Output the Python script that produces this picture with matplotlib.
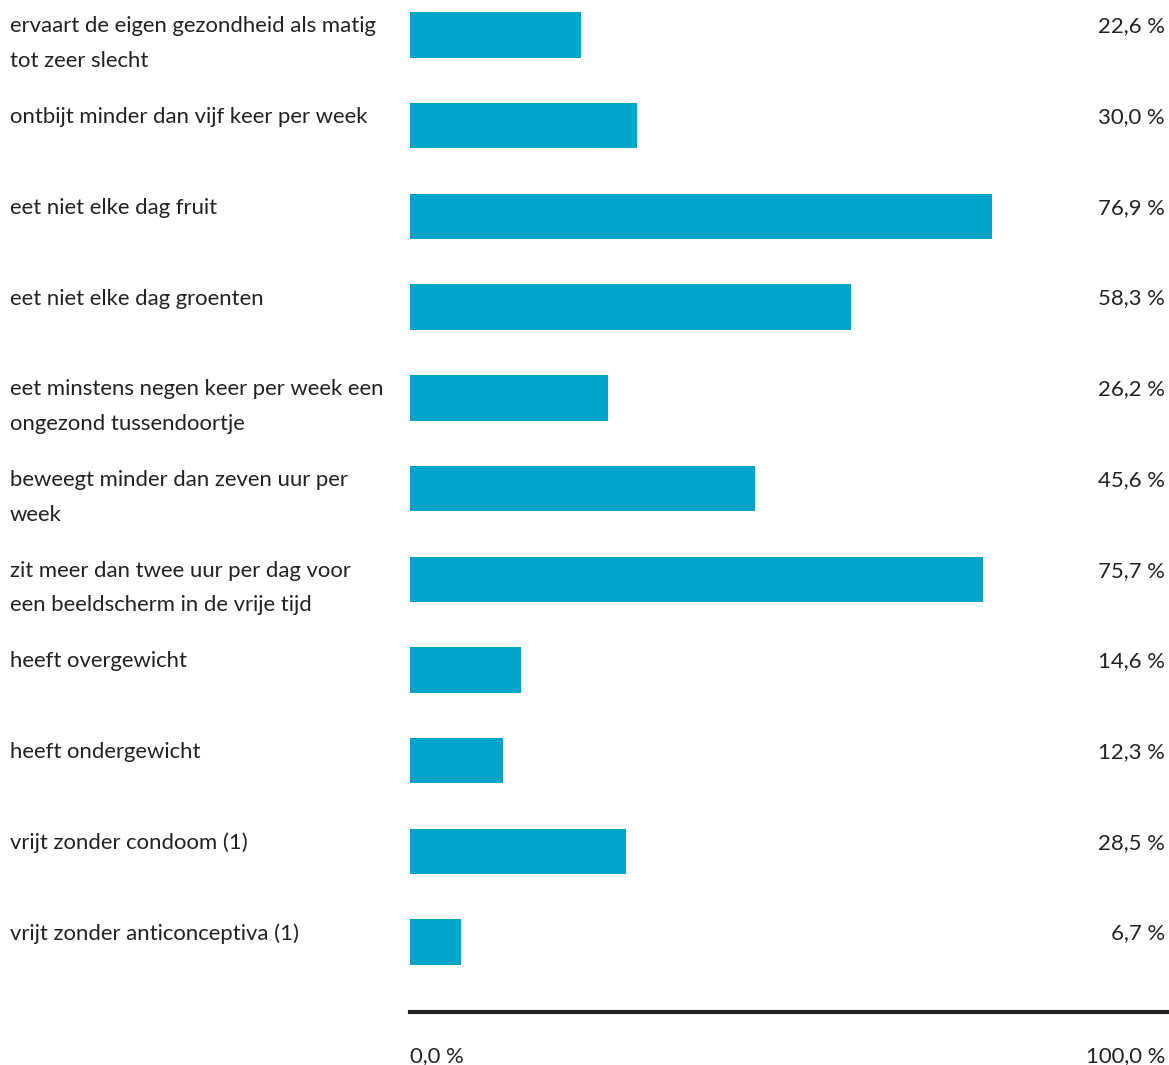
import matplotlib.pyplot as plt
import matplotlib.transforms as mtransforms

labels = [
    "ervaart de eigen gezondheid als matig\ntot zeer slecht",
    "ontbijt minder dan vijf keer per week",
    "eet niet elke dag fruit",
    "eet niet elke dag groenten",
    "eet minstens negen keer per week een\nongezond tussendoortje",
    "beweegt minder dan zeven uur per\nweek",
    "zit meer dan twee uur per dag voor\neen beeldscherm in de vrije tijd",
    "heeft overgewicht",
    "heeft ondergewicht",
    "vrijt zonder condoom (1)",
    "vrijt zonder anticonceptiva (1)",
]
values = [22.6, 30.0, 76.9, 58.3, 26.2, 45.6, 75.7, 14.6, 12.3, 28.5, 6.7]
tick_labels = ["0,0 %", "100,0 %"]

plt.rcParams['font.family'] = ['Lato', 'DejaVu Sans']
bar_color = '#00A3C9'
text_color = '#222222'

W, H = 1169, 1065
fig = plt.figure(figsize=(W / 100, H / 100), dpi=100)
ax = fig.add_axes([410 / W, 1 - 1012 / H, 759 / W, 1012 / H])

ypos = list(range(len(values)))
ax.barh(ypos, values, height=0.5, color=bar_color, left=0)
ax.set_xlim(0, 100 * 759 / 757)
ax.set_ylim(10.77, -0.386)

for s in ['top', 'right', 'left']:
    ax.spines[s].set_visible(False)
ax.spines['bottom'].set_linewidth(3)
ax.spines['bottom'].set_color(text_color)
ax.set_yticks([])
ax.set_xticks([])

# labels on the left in figure x, data y
trans = mtransforms.blended_transform_factory(fig.transFigure, ax.transData)
for y, lab, v in zip(ypos, labels, values):
    ax.text(10 / W, y - 0.205, lab, transform=trans, ha='left', va='top',
            fontsize=15.9, color=text_color, linespacing=1.92)
    ax.text(1165 / W, y - 0.205, f"{v:.1f}".replace('.', ',') + " %",
            transform=trans, ha='right', va='top', fontsize=15.9, color=text_color)

fig.text(410 / W, 1 - 1062 / H, tick_labels[0], ha='left', va='baseline',
         fontsize=15.9, color=text_color)
fig.text(1165 / W, 1 - 1062 / H, tick_labels[1], ha='right', va='baseline',
         fontsize=15.9, color=text_color)

fig.savefig("out.png", dpi=100)
